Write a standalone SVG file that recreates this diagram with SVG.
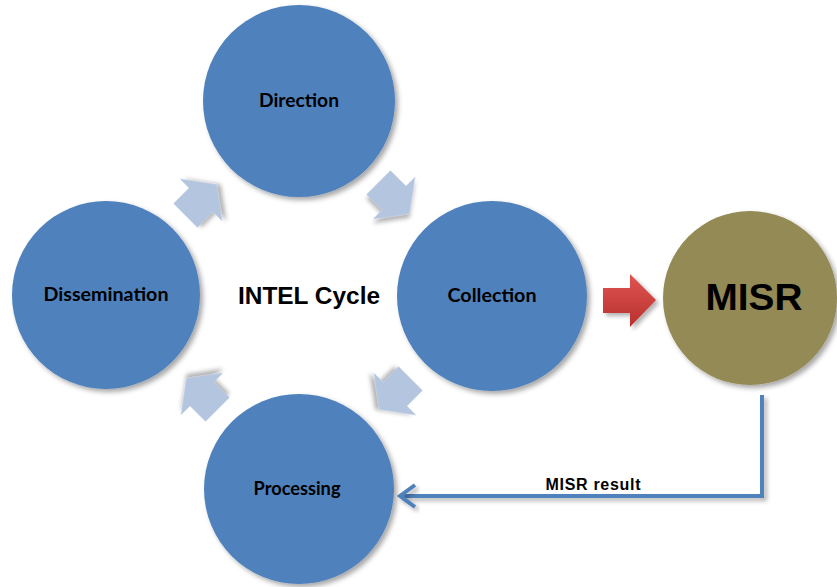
<svg xmlns="http://www.w3.org/2000/svg" width="837" height="587" viewBox="0 0 837 587">
<defs>
<filter id="sh" x="-20%" y="-20%" width="150%" height="150%">
<feDropShadow dx="3" dy="3" stdDeviation="2.5" flood-color="#000" flood-opacity="0.35"/>
</filter>
<filter id="shl" x="-20%" y="-20%" width="150%" height="150%">
<feDropShadow dx="3" dy="3" stdDeviation="2" flood-color="#000" flood-opacity="0.3"/>
</filter>
<linearGradient id="red" x1="0" y1="0" x2="0" y2="1">
<stop offset="0" stop-color="#e05552"/>
<stop offset="1" stop-color="#b8302d"/>
</linearGradient>
<polygon id="ca" points="-22,-17 0,-17 0,-30 22,0 0,30 0,17 -22,17"/>
</defs>
<style>
.node{fill:#4f81bd;filter:url(#sh)}
.misr{fill:#948a54;filter:url(#sh)}
.lbl{font-family:Lato,"Liberation Sans",sans-serif;font-weight:bold;font-size:18px;fill:#000;text-anchor:middle}
.cyc{fill:#b4c5e0;filter:url(#shl)}
.conn{fill:none;stroke:#4f81bd;stroke-width:4;filter:url(#shl)}
</style>
<rect width="837" height="587" fill="#fff"/>
<g id="cycle-arrows">
<use href="#ca" class="cyc" transform="translate(201,200) rotate(-45)"/>
<use href="#ca" class="cyc" transform="translate(394,198) rotate(45)"/>
<use href="#ca" class="cyc" transform="translate(395,394) rotate(135)"/>
<use href="#ca" class="cyc" transform="translate(202,394) rotate(-135)"/>
</g>
<g id="direction">
<circle class="node" cx="299" cy="101" r="96"/>
<text class="lbl" x="299" y="107" textLength="80" lengthAdjust="spacingAndGlyphs">Direction</text>
</g>
<g id="collection">
<circle class="node" cx="492" cy="296" r="95"/>
<text class="lbl" x="492" y="302" textLength="89" lengthAdjust="spacingAndGlyphs">Collection</text>
</g>
<g id="processing">
<circle class="node" cx="299" cy="489" r="95"/>
<text class="lbl" x="297" y="495" textLength="87" lengthAdjust="spacingAndGlyphs">Processing</text>
</g>
<g id="dissemination">
<circle class="node" cx="106" cy="295" r="94"/>
<text class="lbl" x="106" y="301" textLength="125" lengthAdjust="spacingAndGlyphs">Dissemination</text>
</g>
<g id="intel-cycle">
<text x="309" y="304" font-family="'Liberation Sans',Arial,sans-serif" font-weight="bold" font-size="23" text-anchor="middle" textLength="142" lengthAdjust="spacingAndGlyphs">INTEL Cycle</text>
</g>
<g id="misr">
<circle class="misr" cx="750" cy="298" r="87"/>
<text x="754" y="310" font-family="'Liberation Sans',Arial,sans-serif" font-weight="bold" font-size="37" text-anchor="middle" textLength="97" lengthAdjust="spacingAndGlyphs">MISR</text>
</g>
<g id="connectors">
<polygon points="603,288 630,288 630,274 656,300 630,327 630,313 603,313" fill="url(#red)" filter="url(#shl)"/>
<path class="conn" d="M762,395 V496 H401"/>
<path class="conn" d="M415,485 L400,496 L415,507" stroke-linejoin="miter"/>
<text x="593" y="490" font-family="'Liberation Sans',Arial,sans-serif" font-weight="bold" font-size="16" text-anchor="middle" textLength="95" lengthAdjust="spacing">MISR result</text>
</g>
</svg>
